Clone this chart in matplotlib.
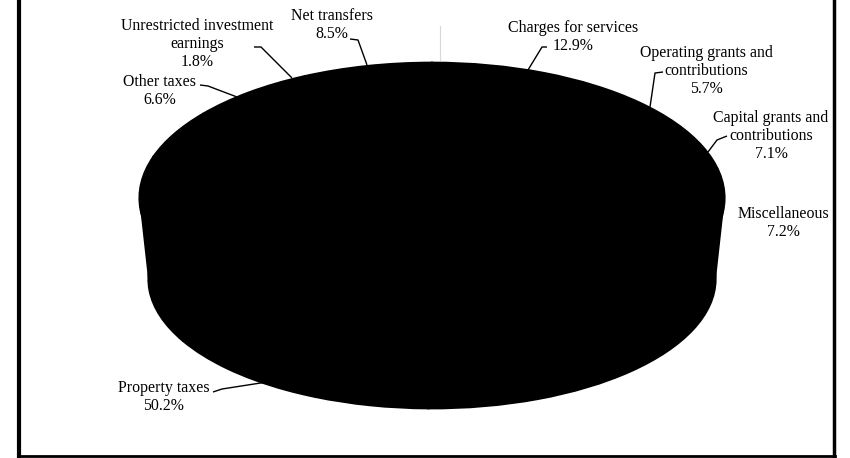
import matplotlib
matplotlib.use("Agg")
import matplotlib.pyplot as plt
from matplotlib.patches import Polygon

# revenue sources, share of total (%)
sources = ["Property taxes", "Other taxes", "Unrestricted investment\nearnings",
           "Net transfers", "Charges for services", "Operating grants and\ncontributions",
           "Capital grants and\ncontributions", "Miscellaneous"]
shares = [50.2, 6.6, 1.8, 8.5, 12.9, 5.7, 7.1, 7.2]

# label placement in pixels (x, y from top) and leader lines
label_pos = [(164, 397), (160, 91), (197, 44), (332, 25),
             (573, 37), (706, 71), (771, 136), (783, 223)]
leaders = [
    [(213, 392), (222, 389), (267, 382)],
    [(200, 85), (208, 86), (237, 97)],
    [(254, 47), (261, 47), (292, 78)],
    [(350, 39), (358, 40), (367, 65)],
    [(547, 47), (542, 47), (528, 70)],
    [(663, 72), (655, 73), (650, 107)],
    [(727, 136), (717, 140), (708, 152)],
    None,
]

W, H = 850, 458
fig = plt.figure(figsize=(W / 100, H / 100), dpi=100)
fig.patch.set_facecolor("white")


def px_axes(cx, cy, a, b, z):
    # axes whose unit circle lands on an ellipse given in pixels
    ax = fig.add_axes([(cx - a) / W, (H - cy - b) / H, 2 * a / W, 2 * b / H], zorder=z)
    return ax


def black_pie(ax):
    ax.pie(shares, colors=["black"] * len(shares), startangle=90, counterclock=False,
           radius=0.995, wedgeprops=dict(edgecolor="black", linewidth=1.5))
    ax.set_aspect("auto")
    ax.set_xlim(-1, 1)
    ax.set_ylim(-1, 1)
    ax.axis("off")


# bottom face, then the side, then the top face
bot = px_axes(432, 279, 285, 130, 1)
black_pie(bot)

ov = fig.add_axes([0, 0, 1, 1], zorder=2)
ov.set_xlim(0, W)
ov.set_ylim(H, 0)
ov.axis("off")
ov.add_patch(Polygon([(139, 198), (725, 198), (716, 279), (148, 279)],
                     closed=True, facecolor="black", edgecolor="none", lw=0))

top = px_axes(432, 198, 294, 136, 3)
black_pie(top)

txt = fig.add_axes([0, 0, 1, 1], zorder=4)
txt.set_xlim(0, W)
txt.set_ylim(H, 0)
txt.axis("off")

for name, val, (x, y), ld in zip(sources, shares, label_pos, leaders):
    txt.text(x, y, f"{name}\n{val:.1f}%", ha="center", va="center",
             fontsize=11.4, family="Liberation Serif", linespacing=1.2, color="black")
    if ld:
        xs, ys = zip(*ld)
        txt.plot(xs, ys, color="black", lw=1.0, solid_capstyle="butt")

# faint scanning marks
txt.plot([440, 440], [26, 60], color="#d8d8d8", lw=0.8)

# frame (left, right, bottom)
txt.plot([19.5, 19.5], [0, 456], color="black", lw=3)
txt.plot([834, 834], [0, 456], color="black", lw=2.5)
txt.plot([18, 835.5], [456, 456], color="black", lw=2)

fig.savefig("out.png", dpi=100)
